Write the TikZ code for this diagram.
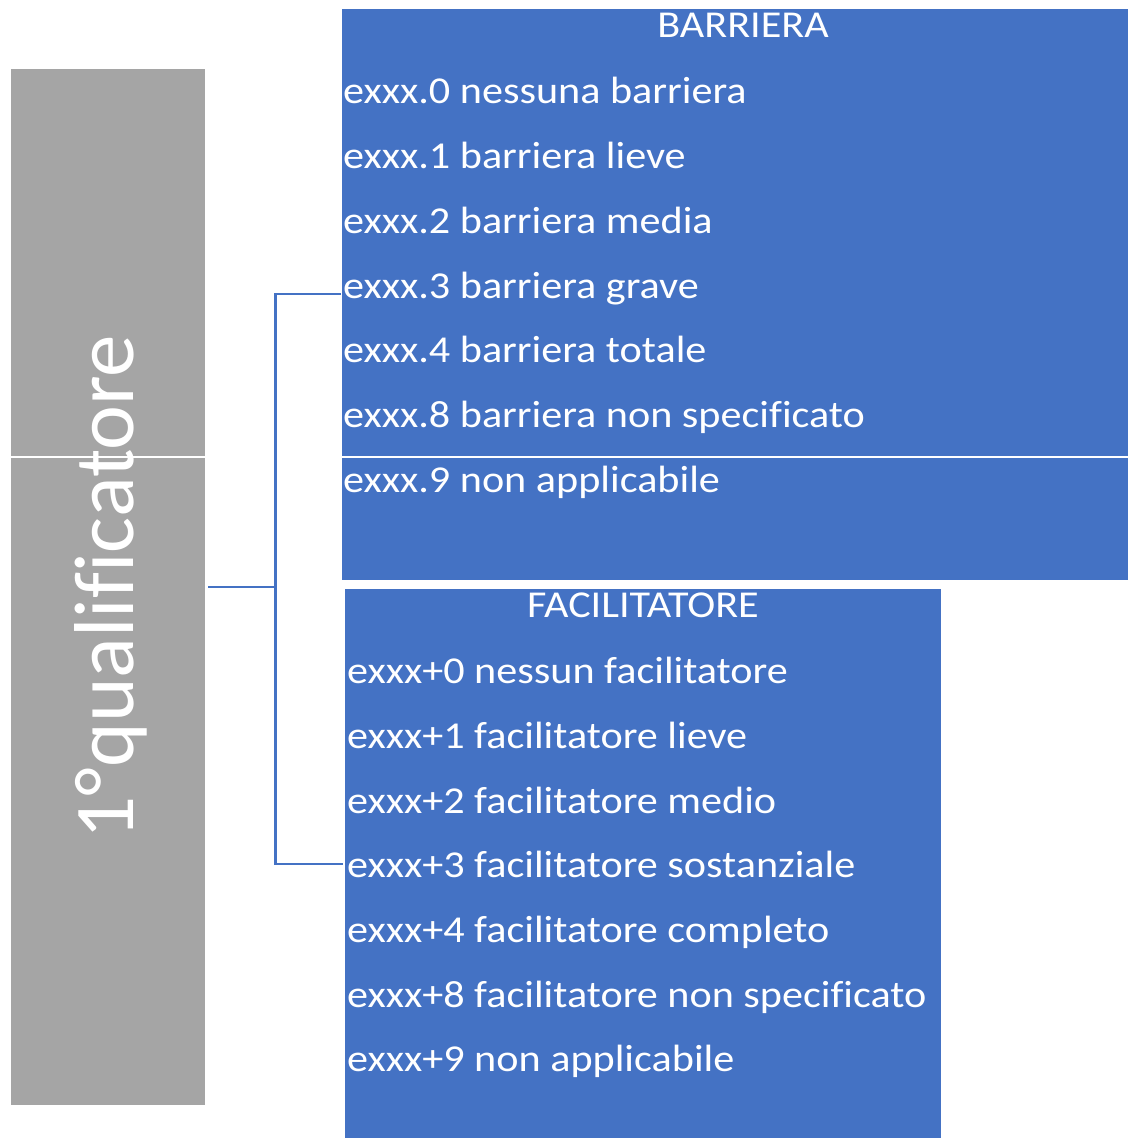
\documentclass[tikz,border=0pt]{standalone}
\usepackage{fontspec}
\setmainfont{Carlito}[FakeStretch=1.11, Ligatures=NoCommon]
\newfontfamily\labelfont{Carlito}[Ligatures=NoCommon]
\usetikzlibrary{calc}
\definecolor{ablue}{HTML}{4472C4}
\definecolor{agray}{HTML}{A5A5A5}
\tikzset{
  panel/.style={fill=ablue, draw=none, inner sep=0pt, anchor=north west},
  greybox/.style={fill=agray, draw=none, inner sep=0pt, anchor=north west},
  item/.style={text=white, inner sep=0pt, anchor=base west, font=\fontsize{38}{46}\selectfont},
  head/.style={text=white, inner sep=0pt, anchor=base, font=\fontsize{38}{46}\selectfont},
  conn/.style={draw=ablue, line width=2.2pt},
  sep/.style={draw=white, line width=1.3pt}
}
\begin{document}
\begin{tikzpicture}[x=1pt,y=-1pt]
\useasboundingbox (0,0) rectangle (1128,1138);
% boxes
\node[greybox, minimum width=194pt, minimum height=1036pt] (q) at (11,69) {};
\node[panel, minimum width=786pt, minimum height=571pt] (bar) at (342,9) {};
\node[panel, minimum width=596pt, minimum height=549pt] (fac) at (345,589) {};
% thin white separators
\draw[sep] (q.west |- 0,457) -- (q.east |- 0,457);
\draw[sep] (bar.west |- 0,457) -- (bar.east |- 0,457);
% rotated label
\node[text=white, inner sep=0pt, anchor=base, rotate=90,
      font=\labelfont\fontsize{85}{100}\selectfont] (ql) at (133,587) {1°qualificatore};
% BARRIERA panel
\node[head] (bh) at (743,37) {BARRIERA};
\node[item] (b0) at (343,103) {exxx.0 nessuna barriera};
\node[item] (b1) at (343,168) {exxx.1 barriera lieve};
\node[item] (b2) at (343,233) {exxx.2 barriera media};
\node[item] (b3) at (343,298) {exxx.3 barriera grave};
\node[item] (b4) at (343,362) {exxx.4 barriera totale};
\node[item] (b8) at (343,427) {exxx.8 barriera non specificato};
\node[item] (b9) at (343,492) {exxx.9 non applicabile};
% FACILITATORE panel
\node[head] (fh) at (643,617) {FACILITATORE};
\node[item] (f0) at (347,683) {exxx+0 nessun facilitatore};
\node[item] (f1) at (347,748) {exxx+1 facilitatore lieve};
\node[item] (f2) at (347,813) {exxx+2 facilitatore medio};
\node[item] (f3) at (347,877) {exxx+3 facilitatore sostanziale};
\node[item] (f4) at (347,942) {exxx+4 facilitatore completo};
\node[item] (f8) at (347,1007) {exxx+8 facilitatore non specificato};
\node[item] (f9) at (347,1071) {exxx+9 non applicabile};
% connectors
\coordinate (bc) at ($(b3.base west)+(-2,-4)$);
\coordinate (fc) at ($(f3.base west)+(-4,-13)$);
\coordinate (root) at ($(q.east)+(3,0)$);
\coordinate (jn) at ($(root)+(67,0)$);
\draw[conn] (root) -- (jn);
\draw[conn] (jn) |- (bc);
\draw[conn] (jn) |- (fc);
\end{tikzpicture}
\end{document}
